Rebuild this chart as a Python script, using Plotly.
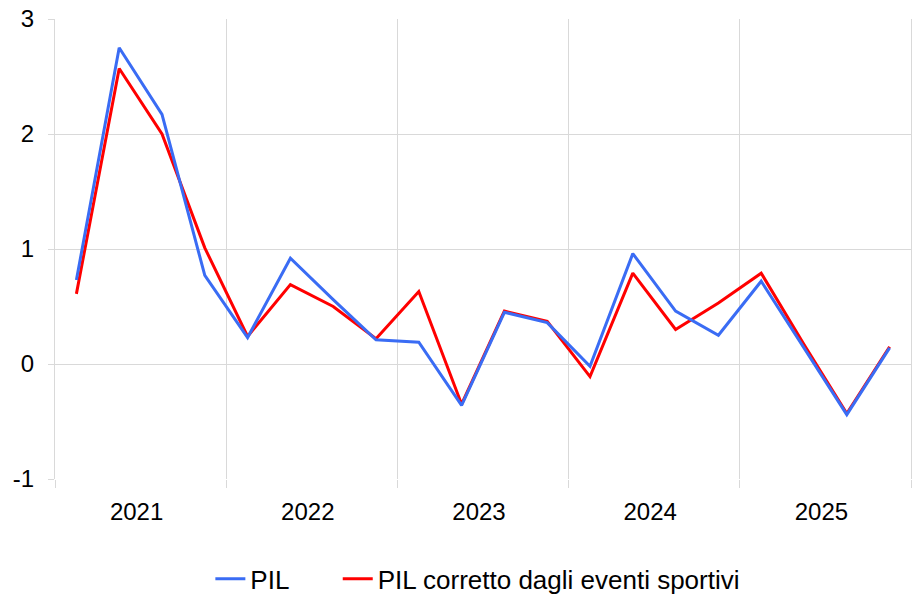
import plotly.graph_objects as go

quarters = [f"{y} T{q}" for y in range(2021, 2026) for q in range(1, 5)]
years = ["2021", "2022", "2023", "2024", "2025"]
y_ticks = [-1, 0, 1, 2, 3]
y_ticklabels = ["-1", "0", "1", "2", "3"]
pil = [0.73, 2.75, 2.17, 0.77, 0.23, 0.92, 0.56, 0.21, 0.19, -0.36,
       0.45, 0.36, -0.02, 0.96, 0.46, 0.25, 0.72, 0.14, -0.44, 0.14]
pil_corr = [0.61, 2.57, 2.00, 1.01, 0.24, 0.69, 0.50, 0.22, 0.63, -0.35,
            0.46, 0.37, -0.11, 0.79, 0.30, 0.53, 0.79, 0.17, -0.43, 0.15]

xpos = [i + 0.5 for i in range(len(quarters))]
year_centers = [4 * i + 2 for i in range(len(years))]
year_bounds = [4 * i for i in range(len(years) + 1)]
n_q = len(quarters)

FONT = "Liberation Sans, Arial, sans-serif"
GRID = "#d9d9d9"
PAD = "\u00a0" * 6

fig = go.Figure()
fig.add_trace(go.Scatter(x=xpos, y=pil_corr, mode="lines", name="PIL corretto dagli eventi sportivi",
                         line=dict(color="#ff0000", width=3), legendrank=2, customdata=quarters,
                         xaxis="x", yaxis="y"))
fig.add_trace(go.Scatter(x=xpos, y=pil, mode="lines", name="PIL" + PAD,
                         line=dict(color="#3a6cf4", width=3), legendrank=1, customdata=quarters,
                         xaxis="x2", yaxis="y"))

fig.update_layout(
    width=913, height=596,
    margin=dict(l=55, r=2, t=19, b=117, autoexpand=False),
    paper_bgcolor="white", plot_bgcolor="white",
    font=dict(family=FONT, size=24, color="#000000"),
    showlegend=True,
    legend=dict(orientation="h", x=0.494, xanchor="center", xref="paper",
                y=-0.217, yanchor="middle", font=dict(size=26),
                itemwidth=30, tracegroupgap=0),
    xaxis=dict(
        range=[0, n_q], tickmode="array", tickvals=year_bounds,
        ticktext=[""] * len(year_bounds),
        showgrid=True, gridcolor=GRID, gridwidth=1.3,
        ticks="outside", ticklen=8, tickcolor=GRID, tickwidth=1.3,
        zeroline=False, showline=False, automargin=False,
    ),
    xaxis2=dict(
        overlaying="x", side="bottom", anchor="y",
        range=[0, n_q], tickmode="array", tickvals=year_centers, ticktext=years,
        showgrid=False, ticks="", zeroline=False, showline=False, automargin=False,
        ticklabelstandoff=16, ticklabelshift=-4,
    ),
    yaxis=dict(
        range=[-1, 3], tickmode="array", tickvals=y_ticks, ticktext=y_ticklabels,
        showgrid=True, gridcolor=GRID, gridwidth=1.3, zeroline=False, automargin=False,
        showline=True, linecolor=GRID, linewidth=1.3, mirror=True,
        ticks="outside", ticklen=6, tickcolor=GRID, tickwidth=1.3,
        ticklabelstandoff=9, ticklabeloverflow="allow",
    ),
)

# remove the default 8px page margin so the figure fills the 913x596 window exactly
fig.write_html("out.html", config={"displayModeBar": False},
               post_script="document.body.style.margin='0px';")
